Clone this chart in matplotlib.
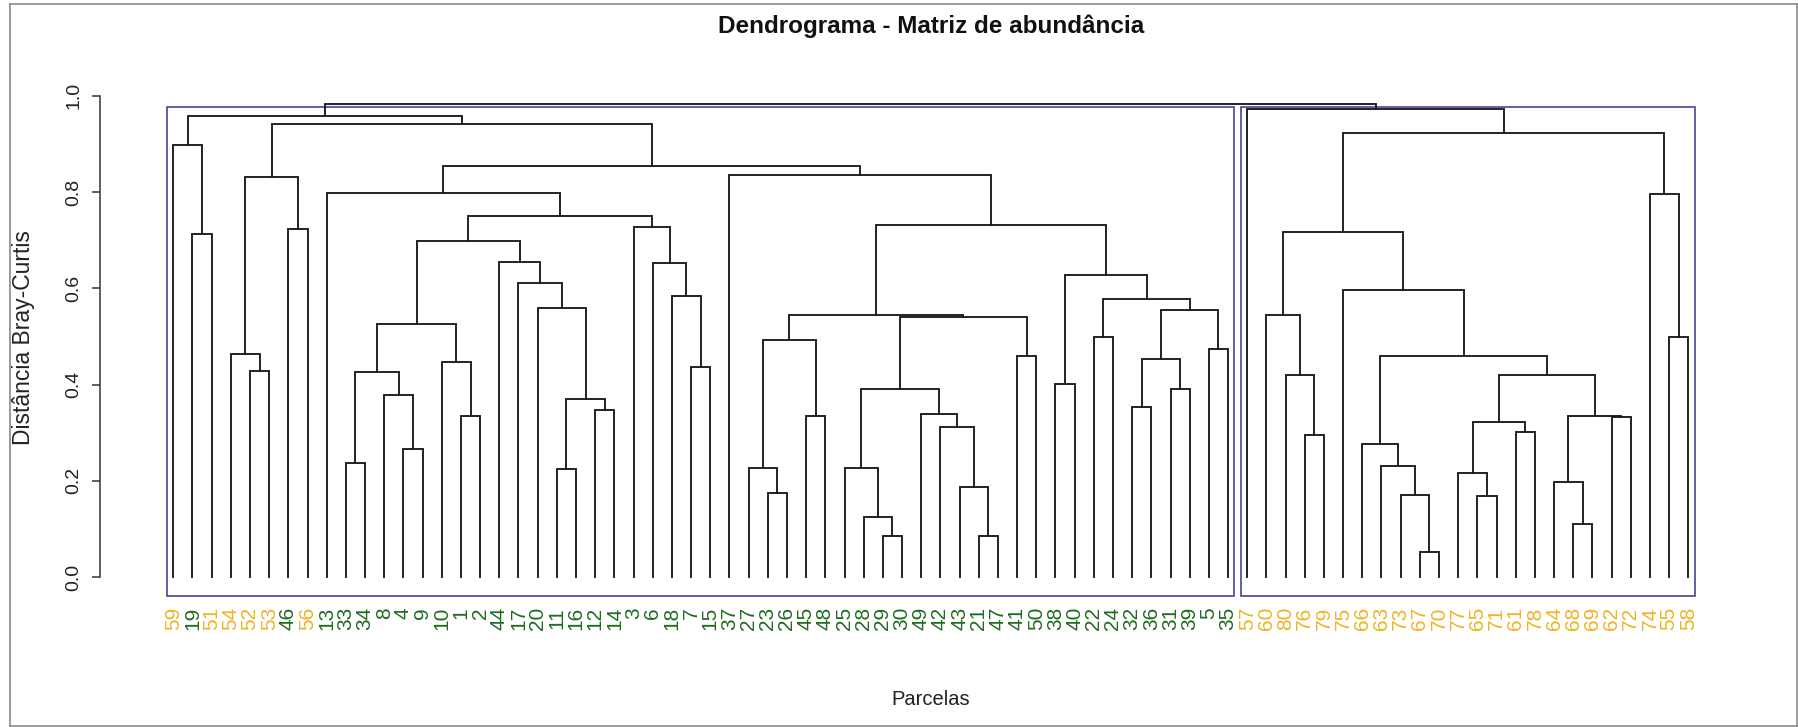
import matplotlib
matplotlib.use("Agg")
import matplotlib.pyplot as plt
from matplotlib import font_manager
from matplotlib.lines import Line2D
from matplotlib.patches import Rectangle

# sites in the order they appear along the bottom
leaf_order = [59, 19, 51, 54, 52, 53, 46, 56, 13, 33, 34, 8, 4, 9, 10, 1, 2,
              44, 17, 20, 11, 16, 12, 14, 3, 6, 18, 7, 15, 37, 27, 23, 26, 45,
              48, 25, 28, 29, 30, 49, 42, 43, 21, 47, 41, 50, 38, 40, 22, 24,
              32, 36, 31, 39, 5, 35,
              57, 60, 80, 76, 79, 75, 66, 63, 73, 67, 70, 77, 65, 71, 61, 78,
              64, 68, 69, 62, 72, 74, 55, 58]

# hclust style merge table: negative = site, positive = earlier row (1-based)
merge = [(-19, -51), (-59, 1), (-52, -53), (-54, 3), (-46, -56), (4, 5),
         (-33, -34), (-4, -9), (-8, 8), (7, 9), (-1, -2), (-10, 11), (10, 12),
         (-11, -16), (-12, -14), (14, 15), (-20, 16), (-17, 17), (-44, 18),
         (13, 19), (-7, -15), (-18, 21), (-6, 22), (-3, 23), (20, 24),
         (-13, 25), (-23, -26), (-27, 27), (-45, -48), (28, 29), (-29, -30),
         (-28, 31), (-25, 32), (-21, -47), (-43, 34), (-42, 35), (-49, 36),
         (33, 37), (-41, -50), (38, 39), (30, 40), (-38, -40), (-22, -24),
         (-32, -36), (-31, -39), (44, 45), (-5, -35), (46, 47), (43, 48),
         (42, 49), (41, 50), (-37, 51), (26, 52), (6, 53), (2, 54),
         (-76, -79), (-80, 56), (-60, 57), (-67, -70), (-73, 59), (-63, 60),
         (-66, 61), (-65, -71), (-77, 63), (-61, -78), (64, 65), (-68, -69),
         (-64, 67), (-62, -72), (68, 69), (66, 70), (62, 71), (-75, 72),
         (58, 73), (-55, -58), (-74, 75), (74, 76), (-57, 77), (55, 78)]
height = [0.712, 0.898, 0.429, 0.463, 0.724, 0.832,
          0.236, 0.266, 0.378, 0.427, 0.335, 0.446, 0.525,
          0.224, 0.348, 0.370, 0.560, 0.610, 0.655,
          0.698, 0.437, 0.584, 0.653, 0.728, 0.751,
          0.797, 0.174, 0.227, 0.335, 0.492, 0.086,
          0.125, 0.227, 0.086, 0.188, 0.312, 0.339,
          0.390, 0.459, 0.541, 0.544, 0.401, 0.499,
          0.354, 0.390, 0.453, 0.473, 0.555, 0.578,
          0.627, 0.731, 0.836, 0.855, 0.941, 0.958,
          0.295, 0.420, 0.544, 0.053, 0.170, 0.230,
          0.276, 0.168, 0.217, 0.302, 0.322, 0.111,
          0.197, 0.333, 0.335, 0.420, 0.459, 0.596,
          0.717, 0.499, 0.796, 0.922, 0.972, 0.983]

cluster_sizes = [56, 24]          # rect.hclust, k = 2
last_green_site = 50              # sites 1-50 green, 51-80 orange
yticks = [0.0, 0.2, 0.4, 0.6, 0.8, 1.0]

names = {f.name for f in font_manager.fontManager.ttflist}
font = "Liberation Sans Narrow" if "Liberation Sans Narrow" in names else "Liberation Sans"
plt.rcParams["font.family"] = [font, "DejaVu Sans"]

W, H = 1798, 727
fig = plt.figure(figsize=(W / 100, H / 100), dpi=100)
ax = fig.add_axes([112.7 / W, 131 / H, 1636.2 / W, 511 / H])
n = len(leaf_order)
ymax = max(height)
ax.set_xlim(-0.04 * (n - 1), (n - 1) * 1.04)
ax.set_ylim(-0.04 * ymax, ymax * 1.04)

# axis frame first (moving a spine resets the ticks)
for side in ["top", "right", "bottom"]:
    ax.spines[side].set_visible(False)
ax.spines["left"].set_position(("outward", 9))
ax.spines["left"].set_bounds(0, 1)
ax.spines["left"].set_linewidth(1.1)
ax.spines["left"].set_color("#333333")

pos = {s: i for i, s in enumerate(leaf_order)}
node_x, node_h = [], []

def child(c):
    if c < 0:
        return pos[-c], 0.0
    return node_x[c - 1], node_h[c - 1]

for (a, b), h in zip(merge, height):
    xa, ha = child(a)
    xb, hb = child(b)
    ax.plot([xa, xa, xb, xb], [ha, h, h, hb], color="#1a1a1a", lw=1.35,
            solid_joinstyle="miter", clip_on=False)
    node_x.append((xa + xb) / 2)
    node_h.append(h)

# cluster boxes
top2 = sorted(height)[-2:]
cut = sum(top2) / 2
y0 = ax.get_ylim()[0]
start = 0
for size in cluster_sizes:
    ax.add_patch(Rectangle((start - 0.34, y0), size - 1 + 0.67, cut - y0,
                           fill=False, ec="#3b3f8c", lw=1.15, clip_on=False))
    start += size

# leaf labels as x tick labels
ax.set_xticks(range(n))
ax.set_xticklabels([str(s) for s in leaf_order], rotation=90, fontsize=15)
for lab, s in zip(ax.get_xticklabels(), leaf_order):
    lab.set_color("#1f6b1f" if s <= last_green_site else "#efb422")
ax.tick_params(axis="x", length=0, pad=8)

ax.set_yticks(yticks)
ax.set_yticklabels([f"{t:.1f}" for t in yticks], rotation=90, va="center",
                   fontsize=14, color="#222222")
ax.tick_params(axis="y", length=6, width=1.1, pad=7, color="#333333")

ax.set_ylabel("Distância Bray-Curtis", fontsize=16.5, color="#222222")
ax.yaxis.set_label_coords(-0.0475, 0.505)
ax.text(0.5, -0.2035, "Parcelas", transform=ax.transAxes, ha="center",
        va="center", fontsize=14.5, color="#222222")
ax.text(0.5, 1.115, "Dendrograma - Matriz de abundância", transform=ax.transAxes,
        ha="center", va="center", fontsize=17.5, fontweight="bold", color="#111111")

# window frame around the screenshot
fig.add_artist(Line2D([10 / W, 10 / W], [0, 1 - 4 / H], color="#8a8a8a", lw=1.2))
fig.add_artist(Line2D([10 / W, 1], [1 - 4 / H, 1 - 4 / H], color="#8a8a8a", lw=1.2))
fig.add_artist(Line2D([1 - 1.5 / W, 1 - 1.5 / W], [0, 1 - 4 / H], color="#8a8a8a", lw=1.2))
fig.add_artist(Line2D([10 / W, 1], [1.5 / H, 1.5 / H], color="#8a8a8a", lw=1.2))

fig.savefig("out.png", dpi=100)
